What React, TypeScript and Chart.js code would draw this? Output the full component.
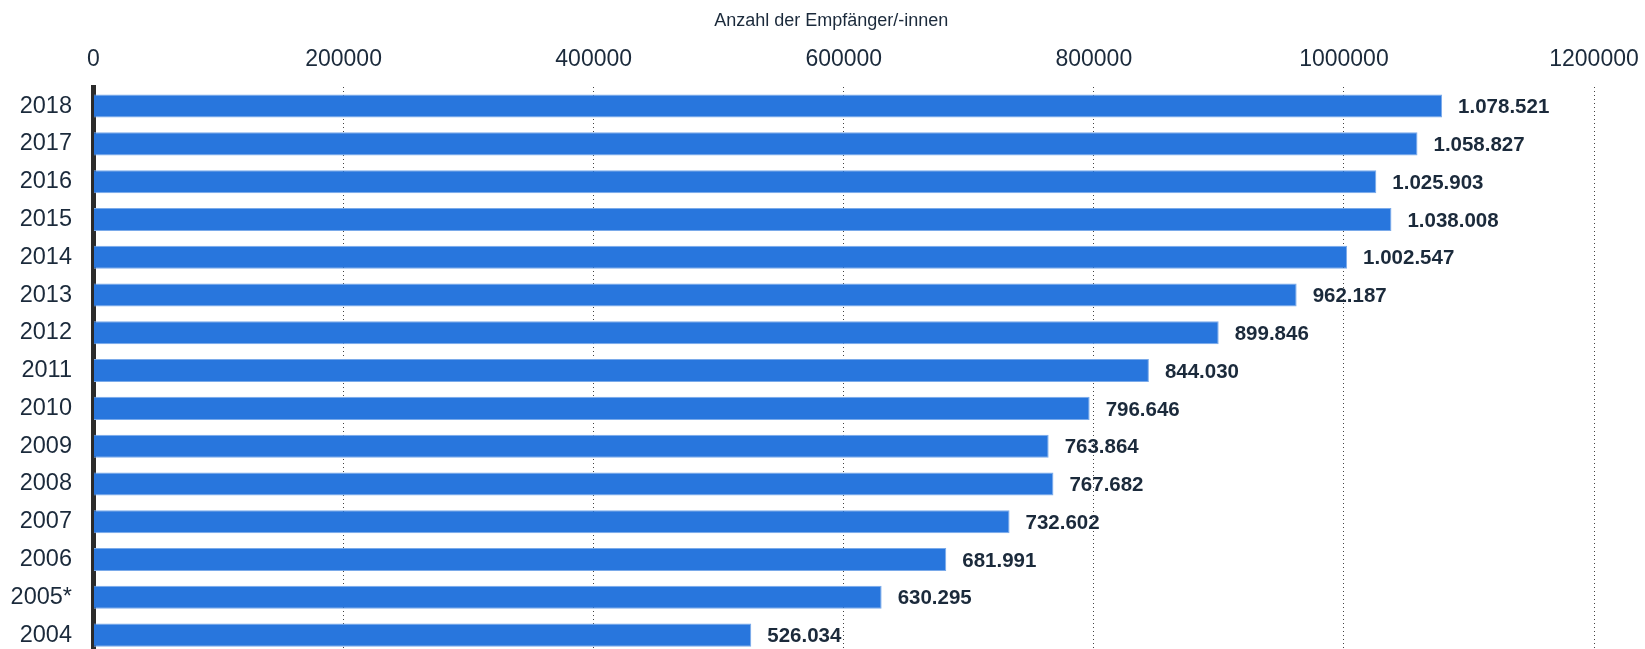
import React, { useEffect, useRef } from 'react';
import { Chart, registerables } from 'chart.js';

Chart.register(...registerables);

const years: string[] = ['2018', '2017', '2016', '2015', '2014', '2013', '2012', '2011', '2010', '2009', '2008', '2007', '2006', '2005*', '2004'];
const recipients: number[] = [1078521, 1058827, 1025903, 1038008, 1002547, 962187, 899846, 844030, 796646, 763864, 767682, 732602, 681991, 630295, 526034];
const xMin = 0;
const xMax = 1200000;
const xStep = 200000;
const axisTitle = 'Anzahl der Empfänger/-innen';

const FONT = '"Liberation Sans", Arial, Helvetica, sans-serif';
const TEXT = '#1b2a3b';
const BAR = '#2876dd';

function formatDE(v: number): string {
  return String(v).replace(/\B(?=(\d{3})+(?!\d))/g, '.');
}

const valueLabels = {
  id: 'valueLabels',
  afterDatasetsDraw(chart: any) {
    const ctx = chart.ctx;
    const meta = chart.getDatasetMeta(0);
    const data = chart.data.datasets[0].data as number[];
    ctx.save();
    ctx.font = `bold 20.5px ${FONT}`;
    ctx.fillStyle = TEXT;
    ctx.textAlign = 'left';
    ctx.textBaseline = 'middle';
    meta.data.forEach((bar: any, i: number) => {
      ctx.fillText(formatDE(data[i]), bar.x + 16, bar.y + 1.5);
    });
    ctx.restore();
  },
};

export default function App() {
  const ref = useRef<HTMLCanvasElement | null>(null);

  useEffect(() => {
    if (!ref.current) return;
    Chart.defaults.font.family = FONT;
    const chart = new Chart(ref.current, {
      type: 'bar',
      data: {
        labels: years,
        datasets: [
          {
            data: recipients,
            backgroundColor: BAR,
            borderColor: '#7aaaea',
            borderWidth: { top: 1, bottom: 1, right: 1, left: 0 },
            borderSkipped: 'start',
            categoryPercentage: 1,
            barPercentage: 0.61,
          },
        ],
      },
      options: {
        indexAxis: 'y',
        responsive: false,
        animation: false,
        layout: { padding: { left: 10, right: 51, top: 0, bottom: 0 } },
        plugins: {
          legend: { display: false },
          tooltip: { enabled: false },
        },
        scales: {
          x: {
            position: 'top',
            min: xMin,
            max: xMax,
            afterFit: (scale: any) => {
              scale.paddingLeft = 0;
              scale.paddingRight = 0;
            },
            ticks: {
              stepSize: xStep,
              color: TEXT,
              font: { size: 23 },
              padding: 14,
              maxRotation: 0,
              callback: (v: any) => String(v),
            },
            grid: {
              drawTicks: false,
              color: (c: any) => (c.tick && c.tick.value === 0 ? 'rgba(0,0,0,0)' : '#444'),
              lineWidth: 1,
            },
            border: { display: false, dash: [1, 3] },
            title: {
              display: true,
              text: axisTitle + '\u00a0\u00a0\u00a0\u00a0\u00a0',
              color: TEXT,
              font: { size: 18 },
              padding: { top: 10, bottom: 0 },
            },
          },
          y: {
            z: 1,
            afterFit: (scale: any) => {
              scale.width = 83.5;
              scale.paddingTop = 0;
              scale.paddingBottom = 0;
            },
            ticks: {
              color: TEXT,
              font: { size: 23.5 },
              padding: 21.5,
            },
            grid: { display: false, drawTicks: false },
            border: { display: true, color: '#2b2b2b', width: 5 },
          },
        },
      },
      plugins: [valueLabels],
    } as any);
    return () => chart.destroy();
  }, []);

  return (
    <div style={{ position: 'fixed', left: 0, top: 0, width: 1645, height: 654 }}>
      <canvas ref={ref} width={1645} height={654} style={{ display: 'block' }} />
    </div>
  );
}
